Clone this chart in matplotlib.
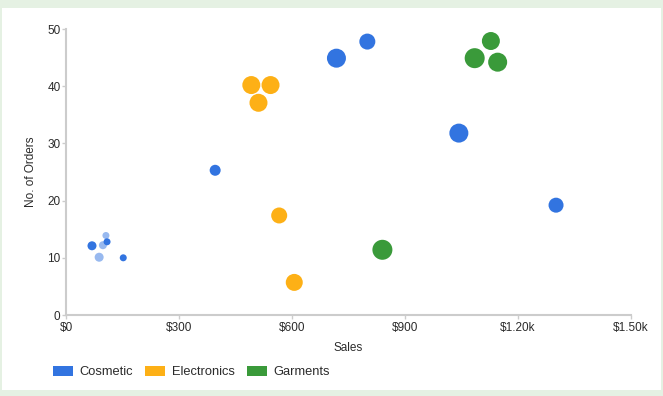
import matplotlib
matplotlib.use("Agg")
import matplotlib.pyplot as plt
from matplotlib.patches import Patch, Rectangle
from matplotlib.ticker import FuncFormatter


# Donnees
categories = ["Cosmetic", "Electronics", "Garments"]

cosmetic_sales = [69, 109, 106, 98, 88, 152, 396, 718, 800, 1043, 1301]
cosmetic_orders = [12.1, 12.8, 13.9, 12.2, 10.1, 10.0, 25.3, 44.9, 47.8, 31.8, 19.2]
cosmetic_size = [9, 7, 7, 8, 9, 7, 11, 19, 16, 19, 15]

electronics_sales = [492, 543, 511, 566, 606]
electronics_orders = [40.2, 40.2, 37.1, 17.4, 5.7]
electronics_size = [18, 18, 18, 16, 17]

garments_sales = [1085, 1128, 1146, 840]
garments_orders = [44.9, 47.9, 44.2, 11.4]
garments_size = [20, 18, 19, 20]

x_ticks = [0, 300, 600, 900, 1200, 1500]
y_ticks = [0, 10, 20, 30, 40, 50]

# Style
COULEURS = {"Cosmetic": "#3274e0", "Electronics": "#fdb016", "Garments": "#3a9a3a"}
POINTS_ESTOMPES = {"Cosmetic": [2, 3, 4]}
TEXTE = "#2b2b2b"
GRIS_AXE = "#cccccc"

plt.rcParams["font.family"] = ["Liberation Sans", "DejaVu Sans"]


def format_dollars(v, pos):
    if v >= 1000:
        return f"${v / 1000:.2f}k"
    return f"${v:.0f}"


def taille_marqueur(diam_px):
    # diametre en pixels -> aire en points^2 (dpi 100)
    return (diam_px * 0.72) ** 2


fig = plt.figure(figsize=(6.63, 3.96), dpi=100)
fig.patch.set_facecolor("#e5f1e3")
fig.patches.append(
    Rectangle((2 / 663, 6 / 396), 659 / 663, 382 / 396,
              transform=fig.transFigure, facecolor="white", edgecolor="none", zorder=-1)
)

ax = fig.add_axes([66 / 663, 81 / 396, 565 / 663, 286 / 396])
ax.set_facecolor("none")

series = [
    ("Cosmetic", cosmetic_sales, cosmetic_orders, cosmetic_size),
    ("Electronics", electronics_sales, electronics_orders, electronics_size),
    ("Garments", garments_sales, garments_orders, garments_size),
]
for nom, xs, ys, tailles in series:
    estompes = POINTS_ESTOMPES.get(nom, [])
    for i, (x, y, t) in enumerate(zip(xs, ys, tailles)):
        alpha = 0.5 if i in estompes else 1.0
        ax.scatter(x, y, s=taille_marqueur(t), color=COULEURS[nom], alpha=alpha,
                   edgecolors="none", zorder=3, clip_on=False)

ax.set_xlim(0, 1500)
ax.set_ylim(0, 50)
ax.set_xticks(x_ticks)
ax.set_yticks(y_ticks)
ax.xaxis.set_major_formatter(FuncFormatter(format_dollars))

for cote in ["top", "right"]:
    ax.spines[cote].set_visible(False)
for cote in ["left", "bottom"]:
    ax.spines[cote].set_color(GRIS_AXE)
    ax.spines[cote].set_linewidth(1.5)

ax.tick_params(axis="both", colors=GRIS_AXE, labelcolor=TEXTE, labelsize=8.5,
               length=3, width=1)
ax.tick_params(axis="x", pad=2)
ax.tick_params(axis="y", pad=1)

ax.set_xlabel("Sales", fontsize=8.5, color=TEXTE, labelpad=6)
ax.set_ylabel("No. of Orders", fontsize=8.5, color=TEXTE, labelpad=7)

poignees = [Patch(facecolor=COULEURS[c], edgecolor="none", label=c) for c in categories]
fig.legend(handles=poignees, loc="lower left", bbox_to_anchor=(41 / 663, 6 / 396),
           ncol=3, frameon=False, fontsize=9.3, labelcolor=TEXTE,
           handlelength=1.55, handleheight=0.9, handletextpad=0.55, columnspacing=0.9)

fig.savefig("out.png", dpi=100)
